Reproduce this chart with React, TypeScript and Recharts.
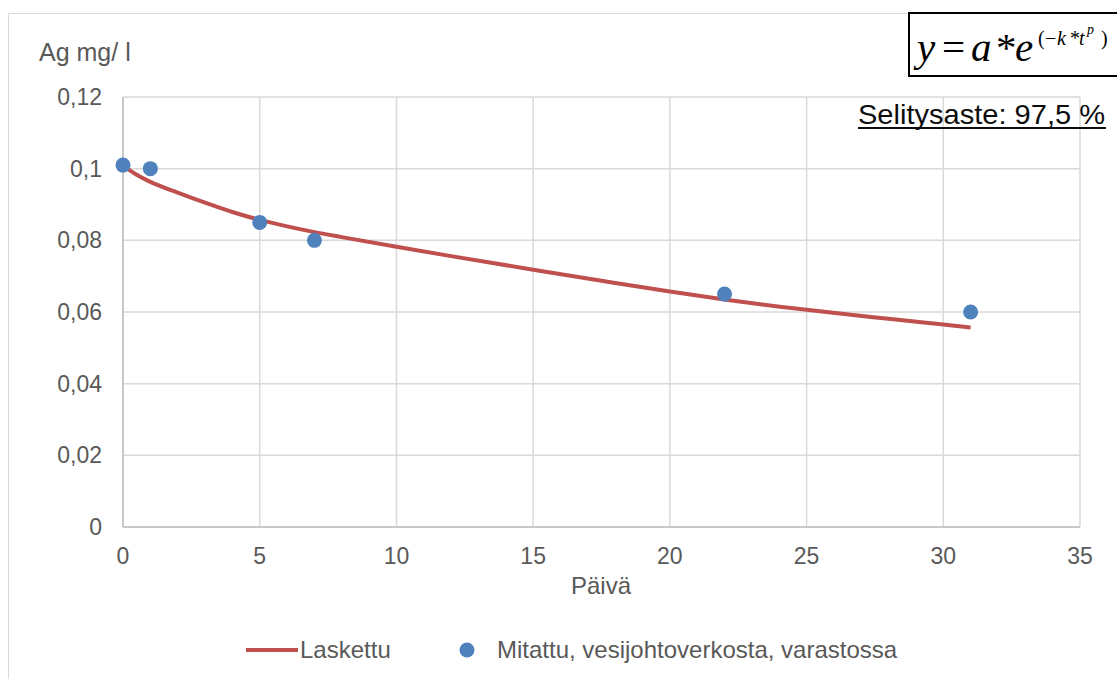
import React from "react";
import { ComposedChart, Line, Scatter, XAxis, YAxis, CartesianGrid } from "recharts";

// Fitted curve y = a*e^(-k*t^p), sampled along the day axis
const fittedDays = [0, 0.25, 0.5, 1, 2, 3, 4, 5, 6, 7, 8, 10, 12, 15, 17.5, 20, 22, 25, 28, 30, 31];
const fittedValues = [0.101, 0.0995, 0.0983, 0.0963, 0.0933, 0.0905, 0.0879, 0.0857, 0.0839, 0.0823, 0.0809, 0.0782, 0.0756, 0.0718, 0.0687, 0.0657, 0.0635, 0.0606, 0.0581, 0.0565, 0.0557];

// Measured silver concentrations
const measuredDays = [0, 1, 5, 7, 22, 31];
const measuredValues = [0.101, 0.1, 0.085, 0.08, 0.065, 0.06];

const xTicks = [0, 5, 10, 15, 20, 25, 30, 35];
const yTicks = [0, 0.02, 0.04, 0.06, 0.08, 0.1, 0.12];

const fitted = fittedDays.map((t, i) => ({ t, v: fittedValues[i] }));
const measured = measuredDays.map((t, i) => ({ t, v: measuredValues[i] }));

const W = 1117;
const H = 679;
const FONT = "'Liberation Sans', Arial, sans-serif";
const SERIF = "'Liberation Serif', 'Times New Roman', serif";
const TEXT = "#595959";
const RED = "#C0504D";
const BLUE = "#4F81BD";

const fmt = (v: number) => (v === 0 ? "0" : String(v).replace(".", ","));

const Dot = (props: any) => <circle cx={props.cx} cy={props.cy} r={7.5} fill={BLUE} />;

export default function App() {
  return (
    <div style={{ position: "absolute", left: 0, top: 0, width: W, height: H, background: "#fff", overflow: "hidden" }}>
      <div style={{ position: "absolute", left: 0, top: 0 }}>
        <ComposedChart width={W} height={H} margin={{ top: 97, right: 37, bottom: 112, left: 63 }}>
          <CartesianGrid stroke="#d9d9d9" strokeWidth={1.5} />
          <XAxis
            type="number"
            dataKey="t"
            domain={[0, 35]}
            ticks={xTicks}
            height={40}
            tickLine={false}
            tickSize={0}
            tickMargin={21}
            stroke="#bfbfbf"
            strokeWidth={1.5}
            tick={{ fill: TEXT, fontSize: 23, fontFamily: FONT }}
          />
          <YAxis
            type="number"
            domain={[0, 0.12]}
            ticks={yTicks}
            width={60}
            tickLine={false}
            tickSize={0}
            tickMargin={21}
            stroke="#bfbfbf"
            strokeWidth={1.5}
            tickFormatter={fmt}
            tick={{ fill: TEXT, fontSize: 23, fontFamily: FONT }}
          />
          <Line
            data={fitted}
            dataKey="v"
            type="monotone"
            stroke={RED}
            strokeWidth={4}
            dot={false}
            activeDot={false}
            isAnimationActive={false}
          />
          <Scatter data={measured} dataKey="v" shape={Dot} isAnimationActive={false} />
        </ComposedChart>
      </div>
      <svg
        width={W}
        height={H}
        style={{ position: "absolute", left: 0, top: 0, pointerEvents: "none" }}
      >
        {/* chart frame */}
        <path d="M8.5,679 V13.5 H1117" fill="none" stroke="#d9d9d9" strokeWidth={1} />

        {/* axis titles */}
        <text x={39} y={61} fontFamily={FONT} fontSize={25} fill={TEXT}>Ag mg/ l</text>
        <text x={601} y={594} textAnchor="middle" fontFamily={FONT} fontSize={24} fill={TEXT}>Päivä</text>

        {/* model formula, one text element with positioned spans */}
        <rect x={909} y={13} width={220} height={63} fill="#fff" stroke="#000" strokeWidth={2} />
        <text fontFamily={SERIF} fill="#000" fontSize={41}>
          <tspan x={917} y={61} fontStyle="italic">y</tspan>
          <tspan x={942} y={61}>=</tspan>
          <tspan x={971} y={61} fontStyle="italic">a</tspan>
          <tspan x={996} y={61}>*</tspan>
          <tspan x={1015} y={61} fontStyle="italic">e</tspan>
          <tspan x={1038} y={45} fontSize={20}>(</tspan>
          <tspan x={1045} y={45} fontSize={20}>−</tspan>
          <tspan x={1057} y={45} fontSize={20} fontStyle="italic">k</tspan>
          <tspan x={1070} y={45} fontSize={20}>*</tspan>
          <tspan x={1079} y={45} fontSize={20} fontStyle="italic">t</tspan>
          <tspan x={1087} y={34} fontSize={14} fontStyle="italic">p</tspan>
          <tspan x={1101} y={45} fontSize={20}>)</tspan>
        </text>

        {/* goodness of fit */}
        <text x={858} y={124} fontFamily={FONT} fontSize={28} textLength={247} lengthAdjust="spacingAndGlyphs" fill="#0d0d0d">Selitysaste: 97,5 %</text>
        <line x1={858} y1={128} x2={1106} y2={128} stroke="#0d0d0d" strokeWidth={2} />

        {/* legend */}
        <line x1={246} y1={650} x2={298} y2={650} stroke={RED} strokeWidth={4} />
        <text x={300} y={658} fontFamily={FONT} fontSize={24} fill={TEXT}>Laskettu</text>
        <circle cx={467} cy={650} r={7.5} fill={BLUE} />
        <text x={497} y={658} fontFamily={FONT} fontSize={24} fill={TEXT}>Mitattu, vesijohtoverkosta, varastossa</text>
      </svg>
    </div>
  );
}
